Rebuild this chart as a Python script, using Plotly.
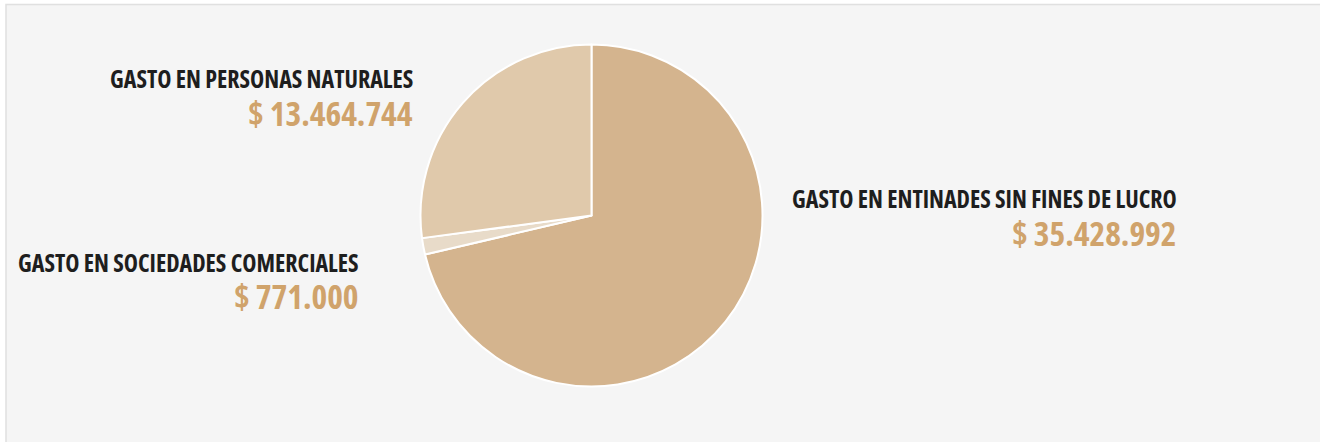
import plotly.graph_objects as go

labels = ["GASTO EN ENTINADES SIN FINES DE LUCRO", "GASTO EN SOCIEDADES COMERCIALES", "GASTO EN PERSONAS NATURALES"]
values = [35428992, 771000, 13464744]
value_text = ["$ 35.428.992", "$ 771.000", "$ 13.464.744"]
colors = ["#d4b48e", "#e8dbc9", "#e0c9ab"]

W, H = 1320, 442
cx, cy, r = 591.5, 215.5, 171

fig = go.Figure(go.Pie(
    labels=labels, values=values, sort=False, direction="clockwise", rotation=0,
    marker=dict(colors=colors, line=dict(color="white", width=2)),
    textinfo="none", hoverinfo="label+value", showlegend=False,
    domain=dict(x=[(cx - r) / W, (cx + r) / W], y=[1 - (cy + r) / H, 1 - (cy - r) / H]),
))

# label positions (pixel, right edge / vertical centers of label and value)
pos = [(1179, 199, 233), (361, 262, 296), (415, 78, 113)]
font = "Open Sans"
ann = []
for (xr, yl, yv), lab, vt in zip(pos, labels, value_text):
    ann.append(dict(x=xr / W, y=1 - yl / H, xref="paper", yref="paper", xanchor="right", yanchor="middle",
                    text="<span style='font-stretch:condensed'><b>" + lab + "</b></span>", showarrow=False,
                    font=dict(family=font, size=24, color="#1e1e1e")))
    ann.append(dict(x=xr / W, y=1 - yv / H, xref="paper", yref="paper", xanchor="right", yanchor="middle",
                    text="<span style='font-stretch:condensed'><b>" + vt + "</b></span>", showarrow=False,
                    font=dict(family=font, size=33.5, color="#d0a36b")))

fig.update_layout(
    width=W, height=H, margin=dict(l=0, r=0, t=0, b=0),
    paper_bgcolor="white", plot_bgcolor="white",
    shapes=[dict(type="rect", xref="paper", yref="paper", x0=6 / W, x1=1.01, y0=-0.01, y1=1 - 4.5 / H,
                 line=dict(color="#e0e0e0", width=1.5), fillcolor="#f5f5f5", layer="below")],
    annotations=ann,
)
fig.write_html("out.html", config={"displayModeBar": False},
               post_script="document.body.style.margin='0';")
